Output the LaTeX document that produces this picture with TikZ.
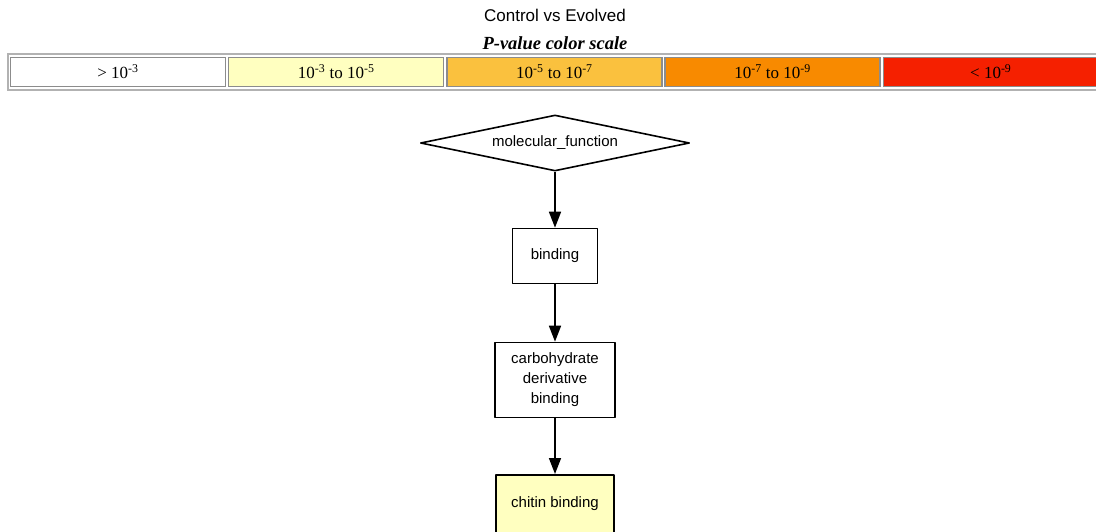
\documentclass[tikz,border=0pt]{standalone}
\usepackage{fontspec}
\setmainfont{Liberation Serif}
\newfontfamily\arialfont{Liberation Sans}
\usetikzlibrary{shapes.geometric,arrows.meta,positioning}
\definecolor{pnone}{RGB}{255,255,255}
\definecolor{plow}{RGB}{255,255,192}
\definecolor{pmid}{RGB}{250,193,62}
\definecolor{phigh}{RGB}{248,138,0}
\definecolor{ptop}{RGB}{245,32,0}
\tikzset{
	term/.style={draw, line width=1.6pt, fill=white, align=center, line join=round, font=\arialfont\fontsize{15}{20}\selectfont},
	cell/.style={draw=gray!90, line width=1.4pt, minimum width=215pt, minimum height=29pt, inner sep=0pt, font=\fontsize{17}{19}\selectfont},
	isa/.style={line width=1.6pt, -{Triangle[length=16pt,width=12pt]}}
}
\begin{document}
\begin{tikzpicture}[x=1pt,y=-1pt]
		\useasboundingbox [fill=white] (0,0) rectangle (1096,531);
		\node [font=\arialfont\fontsize{17}{19}\selectfont] (title) at (555,15) {Control vs Evolved};
		\node [font=\bfseries\itshape\fontsize{18.5}{20}\selectfont] (scale) at (555,43) {P-value color scale};
		\draw [gray!60, line width=1.2pt] (8,54) rectangle (1104,90);
		\foreach \i/\col/\txt in {0/pnone/{> 10\textsuperscript{-3}},
				1/plow/{10\textsuperscript{-3} to 10\textsuperscript{-5}},
				2/pmid/{10\textsuperscript{-5} to 10\textsuperscript{-7}},
				3/phigh/{10\textsuperscript{-7} to 10\textsuperscript{-9}},
				4/ptop/{< 10\textsuperscript{-9}}} {
			\node [cell, fill=\col] (c\i) at (118+218.2*\i,72) {\txt};
		}
		% GO graph
		\node [term, shape=diamond, aspect=4.8, minimum width=269pt, minimum height=56pt, inner sep=0pt] (mf) at (555,143) {molecular\_function};
		\node [term, minimum width=85pt, minimum height=55pt] (bind) at (555,256) {binding};
		\node [term, minimum width=120pt, minimum height=75pt] (carb) at (555,380) {carbohydrate\\derivative\\binding};
		\node [term, fill=plow, minimum width=118pt, minimum height=58pt, anchor=north] (chit) at (555,474) {chitin binding};
		\draw [isa] (mf) -- (bind);
		\draw [isa] (bind) -- (carb);
		\draw [isa] (carb) -- (chit);
\end{tikzpicture}
\end{document}
